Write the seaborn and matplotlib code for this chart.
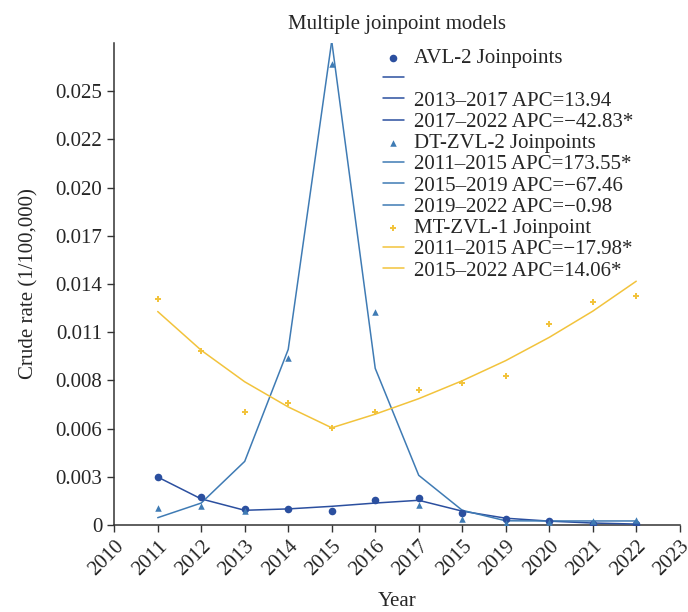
import matplotlib
matplotlib.use("Agg")
import matplotlib.pyplot as plt
import seaborn as sns
import pandas as pd

# Values
years = list(range(2011, 2023))

avl_obs = [0.00279, 0.00165, 0.00091, 0.00091, 0.00081, 0.00146, 0.00159, 0.00072, 0.00035, 0.00023, 0.00008, 0.00004]
avl_fit = [0.00279, 0.00152, 0.00086, 0.00094, 0.00109, 0.00128, 0.00144, 0.00081, 0.00040, 0.00023, 0.00012, 0.00006]

dt_obs = [0.00101, 0.00109, 0.00081, 0.00968, 0.02680, 0.01236, 0.00116, 0.00033, 0.00010, 0.00018, 0.00023, 0.00027]
dt_fit = [0.00043, 0.00128, 0.00370, 0.01020, 0.02810, 0.00910, 0.00289, 0.00086, 0.00025, 0.00024, 0.00024, 0.00024]

mt_obs = [0.01314, 0.01013, 0.00656, 0.00706, 0.00565, 0.00656, 0.00782, 0.00825, 0.00866, 0.01168, 0.01294, 0.01329]
mt_fit = [0.01240, 0.01015, 0.00832, 0.00686, 0.00565, 0.00644, 0.00734, 0.00838, 0.00955, 0.01090, 0.01242, 0.01416]

# joinpoint segments: (start year, end year, legend label)
avl_segments = [(2011, 2013, ""), (2013, 2017, "2013–2017 APC=13.94"), (2017, 2022, "2017–2022 APC=−42.83*")]
dt_segments = [(2011, 2015, "2011–2015 APC=173.55*"), (2015, 2019, "2015–2019 APC=−67.46"), (2019, 2022, "2019–2022 APC=−0.98")]
mt_segments = [(2011, 2015, "2011–2015 APC=−17.98*"), (2015, 2022, "2015–2022 APC=14.06*")]

x_ticks = list(range(2010, 2024))
x_tick_labels = ["2010", "2011", "2012", "2013", "2014", "2015", "2016", "2017",
                 "2015", "2019", "2020", "2021", "2022", "2023"]
y_ticks = [0, 0.0028, 0.0056, 0.0084, 0.0112, 0.0140, 0.0168, 0.0196, 0.0224, 0.0252]
y_tick_labels = ["0", "0.003", "0.006", "0.008", "0.011", "0.014", "0.017", "0.020", "0.022", "0.025"]

sns.set_style("ticks")
plt.rcParams['font.family'] = ['Liberation Serif', 'DejaVu Serif']

c_avl = '#2b4f9f'
c_dt = '#3f7bb4'
c_mt = '#f2c33c'

df = pd.DataFrame({'year': years, 'avl_obs': avl_obs, 'avl_fit': avl_fit,
                   'dt_obs': dt_obs, 'dt_fit': dt_fit,
                   'mt_obs': mt_obs, 'mt_fit': mt_fit})

fig = plt.figure(figsize=(6.88, 6.12), dpi=100)
ax = fig.add_axes([0.166, 0.142, 0.822, 0.788])

handles = []
labels = []


def draw_series(obs_col, fit_col, segments, color, marker, size, name):
    sc = sns.scatterplot(x='year', y=obs_col, data=df, ax=ax, color=color,
                         marker=marker, s=size, linewidth=0, zorder=4)
    handles.append(sc.collections[-1])
    labels.append(name)
    for start, end, lab in segments:
        seg = df[(df['year'] >= start) & (df['year'] <= end)]
        sns.lineplot(x='year', y=fit_col, data=seg, ax=ax, color=color, lw=1.1, zorder=3)
        handles.append(ax.lines[-1])
        labels.append(lab)


draw_series('avl_obs', 'avl_fit', avl_segments, c_avl, 'o', 30, 'AVL-2 Joinpoints')
draw_series('dt_obs', 'dt_fit', dt_segments, c_dt, '^', 22, 'DT-ZVL-2 Joinpoints')
draw_series('mt_obs', 'mt_fit', mt_segments, c_mt, 'P', 22, 'MT-ZVL-1 Joinpoint')

ax.set_xlim(2010, 2023)
ax.set_ylim(0, 0.028)
ax.set_xticks(x_ticks)
ax.set_xticklabels(x_tick_labels, rotation=45, ha='right', rotation_mode='anchor')
ax.set_yticks(y_ticks)
ax.set_yticklabels(y_tick_labels)
ax.tick_params(axis='both', labelsize=15, length=5, width=1, color='#333333', direction='out')
for side in ['top', 'right']:
    ax.spines[side].set_visible(False)
for side in ['left', 'bottom']:
    ax.spines[side].set_color('#333333')
    ax.spines[side].set_linewidth(1.1)

ax.set_xlabel('Year', fontsize=15, labelpad=9)
ax.set_ylabel('Crude rate (1/100,000)', fontsize=15, labelpad=12)
ax.set_title('Multiple joinpoint models', fontsize=15, pad=10)

leg = ax.legend(handles, labels, loc='upper left', bbox_to_anchor=(0.475, 0.988),
                frameon=False, fontsize=15, labelspacing=0.08, handlelength=1.0,
                handletextpad=0.5, borderpad=0, borderaxespad=0)

fig.savefig('out.png', dpi=100)
